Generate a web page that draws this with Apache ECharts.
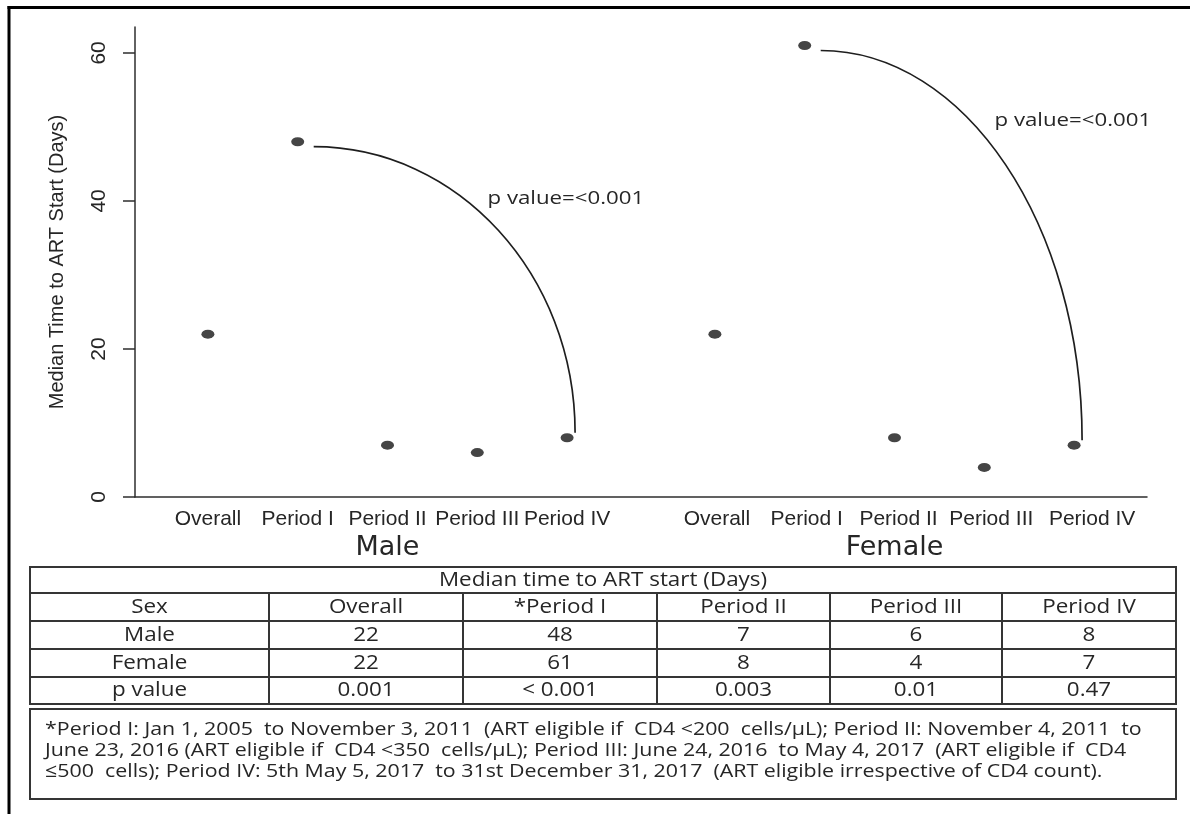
<!DOCTYPE html>
<html>
<head>
<meta charset="utf-8">
<title>Median time to ART start</title>
<script src="https://cdn.jsdelivr.net/npm/echarts@6/dist/echarts.min.js"></script>
<style>
  html, body { margin: 0; padding: 0; background: #fff; }
  #chart { width: 1190px; height: 814px; }
</style>
</head>
<body>
<div id="chart"></div>
<script>
// ---- data ----
const periods = ['Overall', 'Period I', 'Period II', 'Period III', 'Period IV'];
const tablePeriods = ['Overall', '*Period I', 'Period II', 'Period III', 'Period IV'];
const groupNames = ['Male', 'Female'];
const maleDays = [22, 48, 7, 6, 8];
const femaleDays = [22, 61, 8, 4, 7];
const pValues = ['0.001', '< 0.001', '0.003', '0.01', '0.47'];
const trendLabels = ['p value=<0.001', 'p value=<0.001'];
const trendFrom = 1;   // Period I
const trendTo = 4;     // Period IV
const yTicks = [0, 20, 40, 60];
const yTitle = 'Median Time to ART Start (Days)';
const tableTitle = 'Median time to ART start (Days)';
const tableHeadLabel = 'Sex';
const pRowLabel = 'p value';
const footnoteLines = [
  '*Period I: Jan 1, 2005  to November 3, 2011  (ART eligible if  CD4 <200  cells/\u00b5L); Period II: November 4, 2011  to',
  'June 23, 2016 (ART eligible if  CD4 <350  cells/\u00b5L); Period III: June 24, 2016  to May 4, 2017  (ART eligible if  CD4',
  '\u2264500  cells); Period IV: 5th May 5, 2017  to 31st December 31, 2017  (ART eligible irrespective of CD4 count).'
];

// ---- style ----
const AXIS = '#2e2e2e';
const TEXT = '#262626';
const DOT = '#161616';
const plotFont = 'Liberation Sans';
const groupFont = 'DejaVu Sans';
const tableFont = 'Open Sans';
const textStretch = 1.12;          // wide lettering of the table and notes
const yMax = 63.5;
// horizontal nudge (px) of the female tick labels
const femaleLabelNudge = [2, 2, 4, 7, 18];

const chart = echarts.init(document.getElementById('chart'), null, { renderer: 'canvas' });

function xAxisFor(gridIndex, name, nudge) {
  return {
    type: 'category', gridIndex, boundaryGap: true,
    data: periods.map((p, i) => {
      const d = nudge ? nudge[i] : 0;
      return d ? { value: p, textStyle: { padding: [0, 0, 0, 2 * d] } } : p;
    }),
    axisLine: { show: false }, axisTick: { show: false }, splitLine: { show: false },
    axisLabel: { interval: 0, margin: 12, color: TEXT, fontFamily: plotFont, fontSize: 21 },
    name, nameLocation: 'middle', nameGap: 37,
    nameTextStyle: { color: TEXT, fontFamily: groupFont, fontSize: 27 }
  };
}

function dotSeries(gridIndex, values) {
  return {
    type: 'scatter', xAxisIndex: gridIndex, yAxisIndex: gridIndex,
    data: values.map((v, i) => [i, v]),
    symbol: 'circle', symbolSize: [13, 9],
    itemStyle: { color: DOT }, z: 5, silent: true
  };
}

// quarter-ellipse bracket from the Period I point down to the Period IV point
function trendSeries(gridIndex, values, label) {
  return {
    type: 'custom', xAxisIndex: gridIndex, yAxisIndex: gridIndex,
    clip: false, silent: true,
    dimensions: ['x1', 'y1', 'x2', 'y2'],
    encode: { x: [0, 2], y: [1, 3] },
    data: [[trendFrom, values[trendFrom], trendTo, values[trendTo]]],
    renderItem(params, api) {
      const a = api.coord([api.value(0), api.value(1)]);
      const b = api.coord([api.value(2), api.value(3)]);
      const s = [a[0] + 16, a[1] + 5];
      const e = [b[0] + 8, b[1] - 5];
      const k = 0.5523;
      return {
        type: 'group',
        children: [
          {
            type: 'bezierCurve',
            shape: {
              x1: s[0], y1: s[1], x2: e[0], y2: e[1],
              cpx1: s[0] + k * (e[0] - s[0]), cpy1: s[1],
              cpx2: e[0], cpy2: e[1] - k * (e[1] - s[1])
            },
            style: { stroke: '#1e1e1e', lineWidth: 1.7, fill: null }
          },
          {
            type: 'text',
            x: s[0] + 0.665 * (e[0] - s[0]),
            y: s[1] + 0.18 * (e[1] - s[1]),
            scaleX: 1.17,
            style: {
              text: label, fill: TEXT, fontFamily: tableFont, fontSize: 19,
              align: 'left', verticalAlign: 'middle'
            }
          }
        ]
      };
    }
  };
}

// ---- table beneath the plot ----
const colX = [30, 269, 463, 657, 830, 1002, 1176];
const rowY = [567, 593, 621, 649, 677, 704];
const note = { x: 30, y: 709, w: 1146, h: 90, textX: 45, firstLine: 730, lineGap: 21 };
const lineStyle = { stroke: '#353535', lineWidth: 2 };

function buildTable() {
  const els = [];
  const left = colX[0], right = colX[colX.length - 1];
  els.push({ type: 'rect', shape: { x: left, y: rowY[0], width: right - left, height: rowY[rowY.length - 1] - rowY[0] },
             style: { fill: null, ...lineStyle } });
  for (let r = 1; r < rowY.length - 1; r++) {
    els.push({ type: 'line', shape: { x1: left, y1: rowY[r], x2: right, y2: rowY[r] }, style: lineStyle });
  }
  for (let c = 1; c < colX.length - 1; c++) {
    els.push({ type: 'line', shape: { x1: colX[c], y1: rowY[1], x2: colX[c], y2: rowY[rowY.length - 1] }, style: lineStyle });
  }
  const cellText = (txt, x, y) => ({
    type: 'text', x, y, scaleX: textStretch,
    style: { text: String(txt), fill: TEXT, fontFamily: tableFont, fontSize: 20, align: 'center', verticalAlign: 'middle' }
  });
  els.push(cellText(tableTitle, (left + right) / 2, (rowY[0] + rowY[1]) / 2));
  const rows = [
    [tableHeadLabel, ...tablePeriods],
    [groupNames[0], ...maleDays],
    [groupNames[1], ...femaleDays],
    [pRowLabel, ...pValues]
  ];
  rows.forEach((row, r) => {
    const cy = (rowY[r + 1] + rowY[r + 2]) / 2;
    row.forEach((v, c) => els.push(cellText(v, (colX[c] + colX[c + 1]) / 2, cy)));
  });
  // footnote box
  els.push({ type: 'rect', shape: { x: note.x, y: note.y, width: note.w, height: note.h }, style: { fill: null, ...lineStyle } });
  footnoteLines.forEach((t, i) => els.push({
    type: 'text', x: note.textX, y: note.firstLine + i * note.lineGap, scaleX: 1.125,
    style: { text: t, fill: TEXT, fontFamily: tableFont, fontSize: 19, align: 'left', verticalAlign: 'middle' }
  }));
  // figure frame (left and top rules)
  els.push({ type: 'line', shape: { x1: 9, y1: 6, x2: 9, y2: 814 }, style: { stroke: '#000', lineWidth: 3 } });
  els.push({ type: 'line', shape: { x1: 7.5, y1: 7.5, x2: 1190, y2: 7.5 }, style: { stroke: '#000', lineWidth: 3 } });
  return els;
}

const option = {
  backgroundColor: '#fff',
  animation: false,
  grid: [
    { left: 163, right: 1190 - 612, top: 27, bottom: 317 },   // male
    { left: 670, right: 1190 - 1119, top: 27, bottom: 317 },  // female
    { left: 135, right: 1190 - 1147, top: 27, bottom: 317 }   // shared baseline
  ],
  xAxis: [
    xAxisFor(0, groupNames[0], null),
    xAxisFor(1, groupNames[1], femaleLabelNudge),
    { type: 'value', gridIndex: 2, min: 0, max: 1,
      axisLine: { show: true, lineStyle: { color: AXIS, width: 1.5 } },
      axisTick: { show: false }, axisLabel: { show: false }, splitLine: { show: false } }
  ],
  yAxis: [
    { type: 'value', gridIndex: 0, min: 0, max: yMax, offset: 28, position: 'left',
      axisLine: { show: true, lineStyle: { color: AXIS, width: 1.5 } },
      axisTick: { show: true, length: 12, customValues: yTicks, lineStyle: { color: AXIS, width: 1.5 } },
      axisLabel: { customValues: yTicks, rotate: 90, margin: 25, color: TEXT, fontFamily: plotFont, fontSize: 21 },
      splitLine: { show: false },
      name: yTitle, nameLocation: 'middle', nameGap: 68, nameRotate: 90,
      nameTextStyle: { color: TEXT, fontFamily: plotFont, fontSize: 20 } },
    { type: 'value', gridIndex: 1, min: 0, max: yMax, show: false, splitLine: { show: false } },
    { type: 'value', gridIndex: 2, min: 0, max: 1, show: false, splitLine: { show: false } }
  ],
  series: [
    dotSeries(0, maleDays),
    dotSeries(1, femaleDays),
    trendSeries(0, maleDays, trendLabels[0]),
    trendSeries(1, femaleDays, trendLabels[1])
  ],
  graphic: { elements: buildTable() }
};

chart.setOption(option);
</script>
</body>
</html>
